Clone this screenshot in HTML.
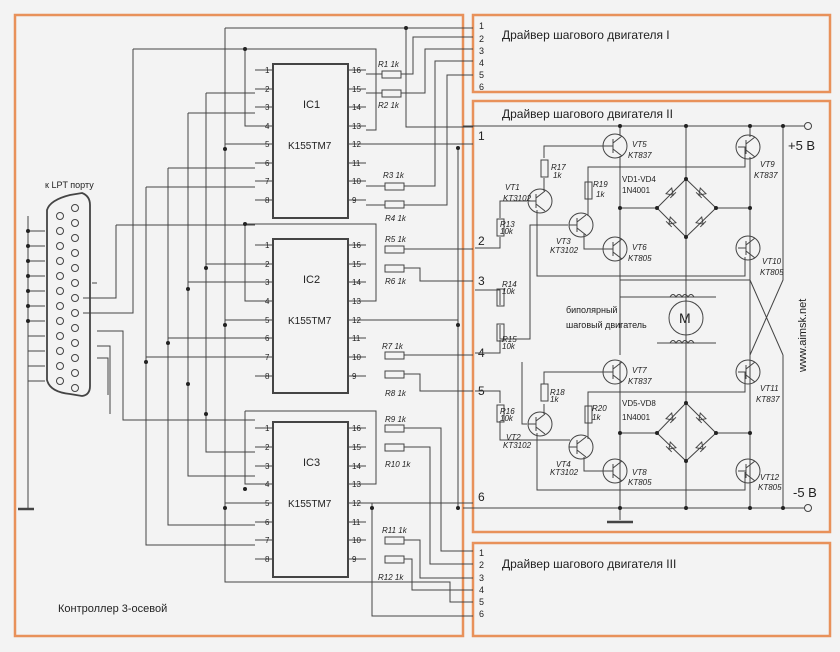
<!DOCTYPE html>
<html><head><meta charset="utf-8"><style>
body{margin:0;background:#f2f2f2}
svg{display:block}
text{font-family:"Liberation Sans",sans-serif;fill:#222}
.s{font-size:8px}
.i{font-size:8px;font-style:italic}
</style></head><body>
<svg width="840" height="652" viewBox="0 0 840 652" xmlns="http://www.w3.org/2000/svg">
<defs>
<g id="tr" stroke="#444" stroke-width="1" fill="none"><path d="M-4 -7V7M-4 -3L5 -10M-4 3L5 10M-12 0H-4"/></g>
<g id="di" stroke="#444" stroke-width="1" fill="none"><path d="M-4 -3L4 -3L0 3ZM-4 3H4"/></g>
</defs>
<rect width="840" height="652" fill="#f3f3f3"/>
<g fill="none" stroke="#e8915a" stroke-width="2.5">
<rect x="15" y="15" width="448" height="621"/>
<rect x="473" y="15" width="357" height="77"/>
<rect x="473" y="101" width="357" height="431"/>
<rect x="473" y="543" width="357" height="93"/>
</g>
<g stroke="#444" stroke-width="1" fill="none">
<rect x="273" y="64" width="75" height="154" stroke-width="2"/>
<rect x="273" y="239" width="75" height="154" stroke-width="2"/>
<rect x="273" y="422" width="75" height="155" stroke-width="2"/>
<path d="M255 70H273M255 89H273M255 107H273M255 126H273M255 144H273M255 163H273M255 181H273M255 200H273"/>
<path d="M348 70H366M348 89H366M348 107H366M348 126H366M348 144H366M348 163H366M348 181H366M348 200H366"/>
<path d="M255 245H273M255 264H273M255 282H273M255 301H273M255 320H273M255 338H273M255 357H273M255 376H273"/>
<path d="M348 245H366M348 264H366M348 282H366M348 301H366M348 320H366M348 338H366M348 357H366M348 376H366"/>
<path d="M255 428H273M255 447H273M255 466H273M255 484H273M255 503H273M255 522H273M255 540H273M255 559H273"/>
<path d="M348 428H366M348 447H366M348 466H366M348 484H366M348 503H366M348 522H366M348 540H366M348 559H366"/>
<rect x="382" y="71" width="19" height="7"/><rect x="382" y="90" width="19" height="7"/>
<rect x="385" y="183" width="19" height="7"/><rect x="385" y="201" width="19" height="7"/>
<rect x="385" y="246" width="19" height="7"/><rect x="385" y="265" width="19" height="7"/>
<rect x="385" y="352" width="19" height="7"/><rect x="385" y="371" width="19" height="7"/>
<rect x="385" y="425" width="19" height="7"/><rect x="385" y="444" width="19" height="7"/>
<rect x="385" y="537" width="19" height="7"/><rect x="385" y="556" width="19" height="7"/>
<path d="M366 74H382M401 74H413V37H473M366 93H382M401 93H425V49H473M366 186H385M404 186H435V61H473M366 205H385M404 205H447V75H473M406 28V127H473M225 28H473"/>
<path d="M133 49H376V130H366M348 144H473M458 148V508"/>
<path d="M404 249H473M404 268H420V281H473M404 355H473M404 374H420V391H473M348 320H458"/>
<path d="M245 49V126H255M245 224H376V301H366M245 224V301H255M245 411H376V484H366M245 411V484H255"/>
<path d="M404 428H441V551H473M404 447H430V564H473M404 540H420V578H473M404 559H412V590H473M366 503H473M372 503V616H473M225 582H450V602H473"/>
<path d="M225 28V582H255M225 144H255M225 320H255M225 503H255"/>
<path d="M206 93H255M206 93V452H255M206 264H255M188 113H255M188 113V476H255M188 282H255M168 168H255M168 168V525H255M168 338H255M146 187H255M146 187V545H255M146 357H255M133 49V313H83M116 225H255M116 225V298H83"/>
<path d="M97 283H92M97 331H123V420H255M97 346H110V414M97 358H108V395"/>
<path d="M28 216V508M28 231H45M28 246H45M28 261H45M28 276H45M28 291H45M28 306H45M28 321H45M28 336H45M28 351H45M28 366H45M28 381H45"/>
<path d="M18 509H34" stroke-width="2.5"/>
<path d="M47 210Q50 200 70 195L82 193Q90 196 90 205V386Q90 395 82 396L70 394Q50 392 47 380Z" stroke-width="1.8"/>
</g>
<g fill="none" stroke="#444" stroke-width="1">
<circle cx="60" cy="216" r="3.5"/><circle cx="60" cy="231" r="3.5"/><circle cx="60" cy="246" r="3.5"/><circle cx="60" cy="261" r="3.5"/><circle cx="60" cy="276" r="3.5"/><circle cx="60" cy="291" r="3.5"/><circle cx="60" cy="306" r="3.5"/><circle cx="60" cy="321" r="3.5"/><circle cx="60" cy="336" r="3.5"/><circle cx="60" cy="351" r="3.5"/><circle cx="60" cy="366" r="3.5"/><circle cx="60" cy="381" r="3.5"/>
<circle cx="75" cy="208" r="3.5"/><circle cx="75" cy="223" r="3.5"/><circle cx="75" cy="238" r="3.5"/><circle cx="75" cy="253" r="3.5"/><circle cx="75" cy="268" r="3.5"/><circle cx="75" cy="283" r="3.5"/><circle cx="75" cy="298" r="3.5"/><circle cx="75" cy="313" r="3.5"/><circle cx="75" cy="328" r="3.5"/><circle cx="75" cy="343" r="3.5"/><circle cx="75" cy="358" r="3.5"/><circle cx="75" cy="373" r="3.5"/><circle cx="75" cy="388" r="3.5"/>
</g>
<g fill="#222">
<circle cx="406" cy="28" r="2"/><circle cx="245" cy="49" r="2"/><circle cx="225" cy="149" r="2"/><circle cx="458" cy="148" r="2"/><circle cx="245" cy="224" r="2"/><circle cx="206" cy="268" r="2"/><circle cx="188" cy="289" r="2"/><circle cx="225" cy="325" r="2"/><circle cx="458" cy="325" r="2"/><circle cx="168" cy="343" r="2"/><circle cx="146" cy="362" r="2"/><circle cx="188" cy="384" r="2"/><circle cx="206" cy="414" r="2"/><circle cx="245" cy="489" r="2"/><circle cx="225" cy="508" r="2"/><circle cx="372" cy="508" r="2"/><circle cx="458" cy="508" r="2"/>
<circle cx="28" cy="231" r="2"/><circle cx="28" cy="246" r="2"/><circle cx="28" cy="261" r="2"/><circle cx="28" cy="276" r="2"/><circle cx="28" cy="291" r="2"/><circle cx="28" cy="306" r="2"/><circle cx="28" cy="321" r="2"/>
</g>
<text x="303" y="108" font-size="11">IC1</text><text x="288" y="149" font-size="10">K155TM7</text>
<text x="303" y="283" font-size="11">IC2</text><text x="288" y="324" font-size="10">K155TM7</text>
<text x="303" y="466" font-size="11">IC3</text><text x="288" y="507" font-size="10">K155TM7</text>
<g class="s">
<text x="265" y="73">1</text><text x="265" y="92">2</text><text x="265" y="110">3</text><text x="265" y="129">4</text><text x="265" y="147">5</text><text x="265" y="166">6</text><text x="265" y="184">7</text><text x="265" y="203">8</text>
<text x="352" y="73">16</text><text x="352" y="92">15</text><text x="352" y="110">14</text><text x="352" y="129">13</text><text x="352" y="147">12</text><text x="352" y="166">11</text><text x="352" y="184">10</text><text x="352" y="203">9</text>
<text x="265" y="248">1</text><text x="265" y="267">2</text><text x="265" y="285">3</text><text x="265" y="304">4</text><text x="265" y="323">5</text><text x="265" y="341">6</text><text x="265" y="360">7</text><text x="265" y="379">8</text>
<text x="352" y="248">16</text><text x="352" y="267">15</text><text x="352" y="285">14</text><text x="352" y="304">13</text><text x="352" y="323">12</text><text x="352" y="341">11</text><text x="352" y="360">10</text><text x="352" y="379">9</text>
<text x="265" y="431">1</text><text x="265" y="450">2</text><text x="265" y="469">3</text><text x="265" y="487">4</text><text x="265" y="506">5</text><text x="265" y="525">6</text><text x="265" y="543">7</text><text x="265" y="562">8</text>
<text x="352" y="431">16</text><text x="352" y="450">15</text><text x="352" y="469">14</text><text x="352" y="487">13</text><text x="352" y="506">12</text><text x="352" y="525">11</text><text x="352" y="543">10</text><text x="352" y="562">9</text>
</g>
<g class="i">
<text x="378" y="67">R1  1k</text><text x="378" y="108">R2  1k</text><text x="383" y="178">R3  1k</text><text x="385" y="221">R4  1k</text>
<text x="385" y="242">R5  1k</text><text x="385" y="284">R6  1k</text><text x="382" y="349">R7  1k</text><text x="385" y="396">R8  1k</text>
<text x="385" y="422">R9  1k</text><text x="385" y="467">R10  1k</text><text x="382" y="533">R11  1k</text><text x="378" y="580">R12  1k</text>
</g>
<text x="45" y="188" font-size="9">к  LPT порту</text>
<text x="58" y="612" font-size="11">Контроллер 3-осевой</text>
<g font-size="9">
<text x="479" y="29">1</text><text x="479" y="42">2</text><text x="479" y="54">3</text><text x="479" y="66">4</text><text x="479" y="78">5</text><text x="479" y="90">6</text>
<text x="479" y="556">1</text><text x="479" y="568">2</text><text x="479" y="581">3</text><text x="479" y="593">4</text><text x="479" y="605">5</text><text x="479" y="617">6</text>
</g>
<text x="502" y="39" font-size="12">Драйвер шагового двигателя I</text>
<text x="502" y="118" font-size="12">Драйвер шагового двигателя II</text>
<text x="502" y="568" font-size="12">Драйвер шагового двигателя III</text>
<g font-size="12"><text x="478" y="140">1</text><text x="478" y="245">2</text><text x="478" y="285">3</text><text x="478" y="357">4</text><text x="478" y="395">5</text><text x="478" y="501">6</text></g>
<text x="788" y="150" font-size="13">+5 В</text><text x="793" y="497" font-size="13">-5 В</text>
<text transform="translate(806,372) rotate(-90)" font-size="11">www.aimsk.net</text>
<g stroke="#444" stroke-width="1" fill="none">
<path d="M463 126H804M463 508H804"/>
<circle cx="808" cy="126" r="3.5"/><circle cx="808" cy="508" r="3.5"/>
<circle cx="615" cy="146" r="12"/><circle cx="748" cy="147" r="12"/><circle cx="540" cy="201" r="12"/><circle cx="581" cy="225" r="12"/><circle cx="615" cy="249" r="12"/><circle cx="748" cy="248" r="12"/>
<circle cx="615" cy="372" r="12"/><circle cx="748" cy="372" r="12"/><circle cx="540" cy="424" r="12"/><circle cx="581" cy="447" r="12"/><circle cx="615" cy="471" r="12"/><circle cx="748" cy="471" r="12"/>
<path d="M620 126V136M620 156V355M750 126V137M750 157V508M620 362V508M686 126V508M621 208H657M716 208H750M621 433H657M716 433H750"/>
<path d="M607 146H544V158M544 178V191M537 210V276H745V257M588 216V167H745V147M527 201H500V218M500 237V248H475M568 225H530V339H500V325M500 305V290H475M500 340V353H475"/>
<path d="M584 234V249H608M584 457V471H608M607 372H544V384M544 404V414M537 433V490H745V472M588 439V392H745V372M527 424H522V362M500 403V391H475M500 421V440H570M620 280H750M620 297H657L716 297M657 343H716M750 280L783 355M783 126V280L750 355M783 355V508"/>
<rect x="541" y="160" width="7" height="17"/><rect x="585" y="182" width="7" height="17"/><rect x="497" y="219" width="7" height="17"/><rect x="497" y="289" width="7" height="17"/><rect x="497" y="324" width="7" height="17"/><rect x="541" y="384" width="7" height="17"/><rect x="585" y="406" width="7" height="17"/><rect x="497" y="405" width="7" height="17"/>
<path d="M686 179L716 208L686 237L657 208Z"/><path d="M686 403L716 433L686 461L657 433Z"/>
<circle cx="686" cy="318" r="17"/>
<path d="M670 297q3-5 6 0q3-5 6 0q3-5 6 0q3-5 6 0M670 343q3-5 6 0q3-5 6 0q3-5 6 0q3-5 6 0"/>
<path d="M607 522H633" stroke-width="2.5"/><path d="M620 508V520"/>
</g>
<use href="#tr" x="617" y="146"/><use href="#tr" x="750" y="147"/><use href="#tr" x="540" y="201"/><use href="#tr" x="581" y="225"/><use href="#tr" x="617" y="249"/><use href="#tr" x="750" y="248"/>
<use href="#tr" x="617" y="372"/><use href="#tr" x="750" y="372"/><use href="#tr" x="540" y="424"/><use href="#tr" x="581" y="447"/><use href="#tr" x="617" y="471"/><use href="#tr" x="750" y="471"/>
<g>
<use href="#di" transform="translate(671,193) rotate(-45)"/><use href="#di" transform="translate(701,193) rotate(45)"/><use href="#di" transform="translate(671,222) rotate(45)"/><use href="#di" transform="translate(701,222) rotate(-45)"/>
<use href="#di" transform="translate(671,418) rotate(-45)"/><use href="#di" transform="translate(701,418) rotate(45)"/><use href="#di" transform="translate(671,447) rotate(45)"/><use href="#di" transform="translate(701,447) rotate(-45)"/>
</g>
<g fill="#222"><circle cx="620" cy="126" r="2"/><circle cx="686" cy="126" r="2"/><circle cx="750" cy="126" r="2"/><circle cx="783" cy="126" r="2"/><circle cx="620" cy="508" r="2"/><circle cx="686" cy="508" r="2"/><circle cx="750" cy="508" r="2"/><circle cx="783" cy="508" r="2"/><circle cx="686" cy="179" r="2"/><circle cx="686" cy="237" r="2"/><circle cx="657" cy="208" r="2"/><circle cx="716" cy="208" r="2"/><circle cx="620" cy="208" r="2"/><circle cx="750" cy="208" r="2"/><circle cx="686" cy="403" r="2"/><circle cx="686" cy="461" r="2"/><circle cx="657" cy="433" r="2"/><circle cx="716" cy="433" r="2"/><circle cx="620" cy="433" r="2"/><circle cx="750" cy="433" r="2"/></g>
<text x="679" y="323" font-size="14">M</text>
<text x="566" y="313" font-size="9">биполярный</text><text x="566" y="328" font-size="9">шаговый двигатель</text>
<g class="i">
<text x="632" y="147">VT5</text><text x="628" y="158">KT837</text><text x="760" y="167">VT9</text><text x="754" y="178">KT837</text>
<text x="505" y="190">VT1</text><text x="503" y="201">KT3102</text><text x="551" y="170">R17</text><text x="553" y="178">1k</text>
<text x="593" y="187">R19</text><text x="596" y="197">1k</text><text x="500" y="227">R13</text><text x="500" y="234">10k</text>
<text x="556" y="244">VT3</text><text x="550" y="253">KT3102</text><text x="632" y="250">VT6</text><text x="628" y="261">KT805</text>
<text x="762" y="264">VT10</text><text x="760" y="275">KT805</text><text x="502" y="287">R14</text><text x="502" y="294">10k</text><text x="502" y="342">R15</text><text x="502" y="349">10k</text>
<text x="632" y="373">VT7</text><text x="628" y="384">KT837</text><text x="760" y="391">VT11</text><text x="756" y="402">KT837</text>
<text x="550" y="395">R18</text><text x="550" y="402">1k</text><text x="592" y="411">R20</text><text x="592" y="420">1k</text><text x="500" y="414">R16</text><text x="500" y="421">10k</text>
<text x="506" y="440">VT2</text><text x="503" y="448">KT3102</text><text x="556" y="467">VT4</text><text x="550" y="475">KT3102</text><text x="632" y="475">VT8</text><text x="628" y="485">KT805</text><text x="760" y="480">VT12</text><text x="758" y="490">KT805</text>
</g>
<text x="622" y="182" font-size="8">VD1-VD4</text><text x="622" y="193" font-size="8">1N4001</text>
<text x="622" y="406" font-size="8">VD5-VD8</text><text x="622" y="420" font-size="8">1N4001</text>
</svg>
</body></html>
